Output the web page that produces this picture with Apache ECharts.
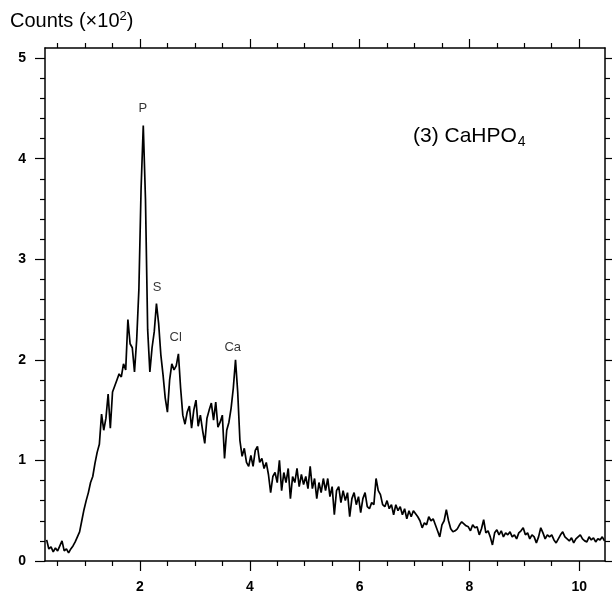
<!DOCTYPE html>
<html>
<head>
<meta charset="utf-8">
<script src="https://cdn.jsdelivr.net/npm/echarts@6/dist/echarts.min.js"></script>
<style>html,body{margin:0;padding:0;background:#fff}#c{width:612px;height:601px}</style>
</head>
<body>
<div id="c"></div>
<script>
// Spectrum channel calibration (keV): first channel and channel width
const E_START = 0.30;
const E_STEP = 0.04;

// Counts (x10^2), in consecutive energy bands
const countsBelow1 = [0.21,0.12,0.14,0.09,0.13,0.10,0.15,0.20,0.10,0.12,0.08,0.12,0.15,0.19,0.24,0.29,0.40,0.51];
const counts1to2 = [0.60,0.68,0.78,0.84,0.97,1.08,1.16,1.46,1.30,1.42,1.66,1.32,1.68,1.74,1.80,1.86,1.83,1.96,1.90,2.40,2.16,2.12,1.88,2.20,2.70];
const counts2to3 = [3.70,4.33,3.60,2.30,1.88,2.12,2.28,2.56,2.36,2.05,1.85,1.62,1.48,1.80,1.96,1.90,1.94,2.06,1.72,1.45,1.36,1.48,1.54,1.32,1.50];
const counts3to4 = [1.60,1.34,1.45,1.30,1.17,1.42,1.50,1.57,1.40,1.58,1.33,1.38,1.45,1.02,1.30,1.38,1.52,1.72,2.00,1.68,1.20,1.04,1.12,0.98,0.94];
const counts4to5 = [1.05,0.94,1.10,1.14,0.98,1.02,0.92,0.98,0.86,0.68,0.84,0.88,0.78,1.00,0.70,0.88,0.78,0.92,0.62,0.84,0.78,0.92,0.74,0.86,0.76];
const counts5to6 = [0.84,0.72,0.94,0.72,0.82,0.62,0.78,0.68,0.82,0.70,0.82,0.64,0.74,0.46,0.70,0.74,0.58,0.70,0.60,0.68,0.44,0.62,0.68,0.56,0.64];
const counts6to7 = [0.48,0.62,0.68,0.54,0.52,0.58,0.56,0.82,0.70,0.66,0.56,0.54,0.60,0.52,0.56,0.46,0.56,0.50,0.54,0.46,0.52,0.42,0.50,0.44,0.50];
const counts7to8 = [0.47,0.44,0.40,0.33,0.38,0.36,0.44,0.40,0.42,0.36,0.30,0.24,0.36,0.40,0.51,0.40,0.32,0.29,0.30,0.32,0.36,0.39,0.37,0.35,0.34];
const counts8to9 = [0.30,0.36,0.33,0.34,0.26,0.32,0.41,0.28,0.30,0.24,0.16,0.28,0.31,0.26,0.30,0.24,0.28,0.26,0.29,0.24,0.26,0.22,0.28,0.30,0.33];
const counts9to10 = [0.26,0.28,0.22,0.26,0.24,0.18,0.24,0.33,0.28,0.22,0.26,0.24,0.26,0.21,0.18,0.22,0.26,0.29,0.24,0.22,0.20,0.23,0.18,0.22,0.24];
const countsAbove10 = [0.26,0.22,0.20,0.19,0.24,0.21,0.23,0.19,0.22,0.21,0.24,0.20];

// Peak annotations: [energy, counts, element]
const peakLabels = [[2.05,4.50,'P'],[2.31,2.72,'S'],[2.65,2.22,'Cl'],[3.69,2.12,'Ca']];

// Axis ticks
const xMajorTicks = [2,4,6,8,10];
const xMinorTicks = [0.5,1,1.5,2.5,3,3.5,4.5,5,5.5,6.5,7,7.5,8.5,9,9.5,10.5];
const yMajorTicks = [0,1,2,3,4,5];
const yMinorTicks = [0.2,0.4,0.6,0.8,1.2,1.4,1.6,1.8,2.2,2.4,2.6,2.8,3.2,3.4,3.6,3.8,4.2,4.4,4.6,4.8];

const counts = [].concat(countsBelow1,counts1to2,counts2to3,counts3to4,counts4to5,
  counts5to6,counts6to7,counts7to8,counts8to9,counts9to10,countsAbove10);
const spectrum = counts.map((c,i)=>[+(E_START + i*E_STEP).toFixed(2), c]);

const X_MIN = 0.27, X_MAX = 10.47, Y_MIN = 0, Y_MAX = 5.1;
const FONT = 'Liberation Sans, Arial, Helvetica, sans-serif';
const lineStyle = {color:'#000', width:1.5};

function xAx(pos, ticks, len, showLine, labels){
  return {type:'value', position:pos, min:X_MIN, max:X_MAX, splitLine:{show:false},
    axisLine:{show:showLine, onZero:false, lineStyle},
    axisTick:{show:true, inside:false, length:len, customValues:ticks, lineStyle:{color:'#000',width:1.2}},
    axisLabel: labels ? {show:true, customValues:ticks, margin:19, color:'#000', fontSize:14, fontWeight:'bold', fontFamily:FONT} : {show:false}};
}
function yAx(pos, ticks, len, showLine, labels){
  return {type:'value', position:pos, min:Y_MIN, max:Y_MAX, splitLine:{show:false},
    axisLine:{show:showLine, onZero:false, lineStyle},
    axisTick:{show:true, inside:false, length:len, customValues:ticks, lineStyle:{color:'#000',width:1.2}},
    axisLabel: labels ? {show:true, customValues:ticks, margin:19, color:'#000', fontSize:14, fontWeight:'bold', fontFamily:FONT} : {show:false}};
}

const chart = echarts.init(document.getElementById('c'), null, {renderer:'canvas'});
chart.setOption({
  backgroundColor:'#fff',
  animation:false,
  grid:{left:45, top:48, width:560, height:513, containLabel:false},
  xAxis:[
    xAx('bottom', xMajorTicks, 10, true, true),
    xAx('bottom', xMinorTicks, 5, false, false),
    xAx('top', xMajorTicks, 9, true, false),
    xAx('top', xMinorTicks, 5, false, false)
  ],
  yAxis:[
    yAx('left', yMajorTicks, 10, true, true),
    yAx('left', yMinorTicks, 5, false, false),
    yAx('right', yMajorTicks, 8, true, false),
    yAx('right', yMinorTicks, 5, false, false)
  ],
  series:[
    {type:'line', data:spectrum, xAxisIndex:0, yAxisIndex:0, showSymbol:false, symbol:'none',
      lineStyle:{color:'#000', width:1.7}, silent:true},
    {type:'scatter', data:peakLabels, xAxisIndex:0, yAxisIndex:0, symbolSize:0, silent:true,
      label:{show:true, position:'inside', formatter:p=>p.data[2], color:'#000', fontSize:13, fontFamily:FONT}}
  ],
  graphic:[
    {type:'text', left:10, top:10, style:{rich:{
        b:{fontSize:20, fontFamily:FONT, fill:'#000'},
        sup:{fontSize:13, fontFamily:FONT, fill:'#000', verticalAlign:'top', padding:[0,0,9,0]}},
      text:'{b|Counts (×10}{sup|2}{b|)}', fill:'#000'}},
    {type:'text', left:413, top:126, style:{rich:{
        b:{fontSize:21, fontFamily:FONT, fill:'#000'},
        sub:{fontSize:14, fontFamily:FONT, fill:'#000', padding:[12,0,0,1]}},
      text:'{b|(3) CaHPO}{sub|4}'}}
  ]
});
</script>
</body>
</html>
